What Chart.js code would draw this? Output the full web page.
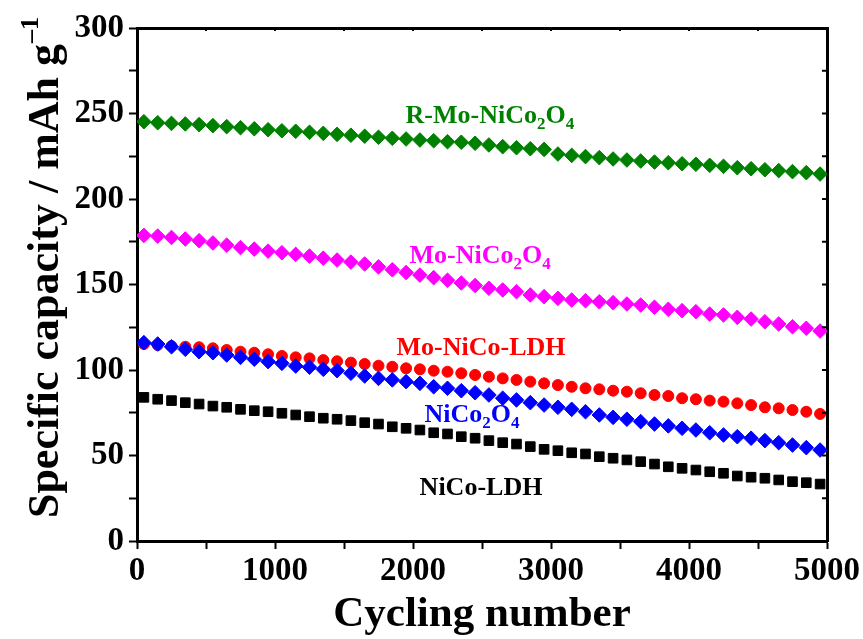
<!DOCTYPE html>
<html>
<head>
<meta charset="utf-8">
<script src="https://cdn.jsdelivr.net/npm/chart.js@4.4.1/dist/chart.umd.min.js"></script>
<style>
  html, body { margin: 0; padding: 0; background: #fff; }
  #wrap { position: relative; width: 863px; height: 639px; }
</style>
</head>
<body>
<div id="wrap"><canvas id="c" width="863" height="639"></canvas></div>
<script>
const cycles = [50,150,250,350,450,550,650,750,850,950,1050,1150,1250,1350,1450,1550,1650,1750,1850,1950,2050,2150,2250,2350,2450,
                2550,2650,2750,2850,2950,3050,3150,3250,3350,3450,3550,3650,3750,3850,3950,4050,4150,4250,4350,4450,4550,4650,4750,4850,4950];

const rMoNiCo2O4 = [245.2,244.6,244.2,243.9,243.5,242.9,242.3,241.7,241.1,240.5,239.9,239.6,239.0,238.4,237.8,237.3,236.7,236.1,235.5,235.1,234.5,234.1,233.5,233.2,232.6,
                    231.6,230.6,230.0,229.4,229.0,226.3,225.5,224.8,224.2,223.4,222.8,222.2,221.6,221.2,220.6,220.3,219.7,219.1,218.3,217.7,217.1,216.6,216.0,215.4,214.6];
const moNiCo2O4 = [178.7,178.3,177.5,176.6,175.6,174.3,173.0,171.6,170.7,169.5,168.6,167.6,166.6,165.4,164.3,163.1,162.0,160.3,158.6,157.0,155.5,154.0,152.5,150.9,149.4,
                   147.8,146.8,145.8,143.9,142.9,141.9,140.9,140.5,139.9,139.4,138.6,138.0,136.7,135.5,134.7,134.1,132.7,132.2,130.8,129.8,128.2,126.9,125.3,124.4,122.8];
const moNiCoLDH = [115.2,114.6,114.0,113.6,113.3,112.7,111.7,110.7,110.1,109.2,108.2,107.4,106.8,105.8,105.1,104.3,103.5,102.5,101.9,101.0,100.4,99.6,99.0,98.1,97.1,
                   96.1,95.1,94.2,93.2,92.2,91.2,90.2,89.3,88.7,87.9,87.3,86.4,85.4,84.8,83.5,82.9,82.1,81.5,80.5,79.5,78.2,77.6,76.6,75.6,74.3];
const niCo2O4 = [116.0,115.2,113.6,112.1,110.7,110.1,108.8,107.4,106.3,104.9,103.9,102.3,101.6,100.4,99.6,98.1,96.5,95.1,94.2,93.2,92.2,90.2,89.3,87.9,86.7,
                 85.4,83.5,82.5,80.9,79.5,78.2,77.0,75.6,73.7,72.3,71.2,69.8,68.4,67.3,65.9,64.9,63.3,62.0,61.0,60.1,58.7,57.5,56.1,54.6,53.2];
const niCoLDH = [84.0,82.9,82.1,80.9,80.1,78.9,78.2,77.0,76.2,75.6,74.7,73.7,72.7,71.8,71.2,70.4,69.2,68.4,66.8,65.9,64.9,63.3,62.6,61.0,60.1,
                 58.7,57.5,56.7,55.2,53.6,52.8,51.6,50.9,49.3,48.4,47.4,46.4,45.0,43.4,42.5,41.5,40.5,39.6,38.0,37.3,36.7,35.7,34.7,34.1,33.3];

const xTicks = [0,1000,2000,3000,4000,5000];
const yTicks = [0,50,100,150,200,250,300];

// in-plot labels: anchor in data coordinates (cycle, capacity)
const labelTexts = [
  { parts: [['R-Mo-NiCo'],['2','sub'],['O'],['4','sub']], color: '#008000', x: 1946, y: 244.2 },
  { parts: [['Mo-NiCo'],['2','sub'],['O'],['4','sub']], color: '#FF00FF', x: 1975, y: 162.7 },
  { parts: [['Mo-NiCo-LDH']], color: '#FF0000', x: 1881, y: 108.8 },
  { parts: [['NiCo'],['2','sub'],['O'],['4','sub']], color: '#0000FF', x: 2084, y: 69.8 },
  { parts: [['NiCo-LDH']], color: '#000000', x: 2048, y: 26.9 }
];

const FONT = '"Liberation Serif", "Times New Roman", serif';

function pts(arr) { return cycles.map((c, i) => ({ x: c, y: arr[i] })); }

function ds(label, arr, color, style, r) {
  return {
    label, data: pts(arr), showLine: false,
    pointStyle: style, pointRadius: r, pointHoverRadius: r,
    backgroundColor: color, borderColor: color, pointBorderWidth: 1
  };
}

const annot = {
  id: 'annot',
  afterDraw(chart) {
    const ctx = chart.ctx;
    const xs = chart.scales.x, ys = chart.scales.y;
    const area = chart.chartArea;
    ctx.save();
    // inward ticks on right and top frame
    ctx.strokeStyle = '#000'; ctx.lineWidth = 2;
    for (let v = 25; v < 300; v += 25) {
      const py = ys.getPixelForValue(v);
      ctx.beginPath(); ctx.moveTo(area.right, py); ctx.lineTo(area.right - 5, py); ctx.stroke();
    }
    for (let v = 500; v < 5000; v += 500) {
      const px = xs.getPixelForValue(v);
      ctx.beginPath(); ctx.moveTo(px, area.top); ctx.lineTo(px, area.top + 3); ctx.stroke();
    }
    // labels
    const fs = 26;
    labelTexts.forEach(l => {
      let px = xs.getPixelForValue(l.x);
      const py = ys.getPixelForValue(l.y);
      ctx.fillStyle = l.color;
      ctx.textBaseline = 'alphabetic';
      ctx.textAlign = 'left';
      l.parts.forEach(p => {
        const sub = p[1] === 'sub';
        ctx.font = 'bold ' + (sub ? Math.round(fs * 0.65) : fs) + 'px ' + FONT;
        ctx.fillText(p[0], px, py + (sub ? 6 : 0));
        px += ctx.measureText(p[0]).width;
      });
    });
    // y-axis title with superscript
    const tfs = 44;
    ctx.translate(58, 268);
    ctx.rotate(-Math.PI / 2);
    ctx.fillStyle = '#000';
    ctx.font = 'bold ' + tfs + 'px ' + FONT;
    const main = 'Specific capacity / mAh g';
    const wMain = ctx.measureText(main).width;
    ctx.font = 'bold ' + Math.round(tfs * 0.6) + 'px ' + FONT;
    const sup = '\u20131';
    const wSup = ctx.measureText(sup).width;
    const start = -(wMain + wSup) / 2;
    ctx.font = 'bold ' + tfs + 'px ' + FONT;
    ctx.fillText(main, start, 0);
    ctx.font = 'bold ' + Math.round(tfs * 0.6) + 'px ' + FONT;
    ctx.fillText(sup, start + wMain + 1, -tfs * 0.45);
    ctx.restore();
  }
};

new Chart(document.getElementById('c'), {
  type: 'scatter',
  data: {
    datasets: [
      ds('R-Mo-NiCo2O4', rMoNiCo2O4, '#008000', 'rectRot', 7.3),
      ds('Mo-NiCo2O4', moNiCo2O4, '#FF00FF', 'rectRot', 7.3),
      ds('NiCo2O4', niCo2O4, '#0000FF', 'rectRot', 7.3),
      ds('Mo-NiCo-LDH', moNiCoLDH, '#FF0000', 'circle', 5.5),
      ds('NiCo-LDH', niCoLDH, '#000000', 'rect', 6.8)
    ]
  },
  options: {
    responsive: false,
    animation: false,
    events: [],
    layout: { padding: { top: 28, right: 34, left: 0, bottom: 0 } },
    plugins: { legend: { display: false }, tooltip: { enabled: false } },
    scales: {
      x: {
        type: 'linear', position: 'bottom', min: 0, max: 5000,
        afterBuildTicks(scale) {
          const t = [];
          for (let v = 0; v <= 5000; v += 500) t.push({ value: v });
          scale.ticks = t;
        },
        afterFit(scale) { scale.height = 98; },
        ticks: {
          autoSkip: false, maxRotation: 0, padding: 3,
          color: '#000', font: { family: FONT, weight: 'bold', size: 33 },
          callback: v => (xTicks.includes(v) ? String(v) : '')
        },
        grid: { drawOnChartArea: false, drawTicks: true, tickLength: 8, tickWidth: 2, tickColor: '#000' },
        border: { display: true, color: '#000', width: 3 },
        title: { display: true, text: 'Cycling number', color: '#000', font: { family: FONT, weight: 'bold', size: 43 }, padding: { top: 0, bottom: -2 } }
      },
      y: {
        type: 'linear', position: 'left', min: 0, max: 300,
        afterBuildTicks(scale) {
          const t = [];
          for (let v = 0; v <= 300; v += 25) t.push({ value: v });
          scale.ticks = t;
        },
        afterFit(scale) { scale.width = 137; },
        ticks: {
          autoSkip: false, padding: 5,
          color: '#000', font: { family: FONT, weight: 'bold', size: 33 },
          callback: v => (yTicks.includes(v) ? String(v) : '')
        },
        grid: { drawOnChartArea: false, drawTicks: true, tickLength: 8, tickWidth: 2, tickColor: '#000' },
        border: { display: true, color: '#000', width: 3 }
      },
      x2: {
        type: 'linear', position: 'top', min: 0, max: 5000,
        ticks: { display: false },
        grid: { display: false, drawTicks: false },
        border: { display: true, color: '#000', width: 3 },
        afterFit(scale) { scale.height = 0; }
      },
      y2: {
        type: 'linear', position: 'right', min: 0, max: 300,
        ticks: { display: false },
        grid: { display: false, drawTicks: false },
        border: { display: true, color: '#000', width: 3 },
        afterFit(scale) { scale.width = 0; }
      }
    }
  },
  plugins: [annot]
});
</script>
</body>
</html>
